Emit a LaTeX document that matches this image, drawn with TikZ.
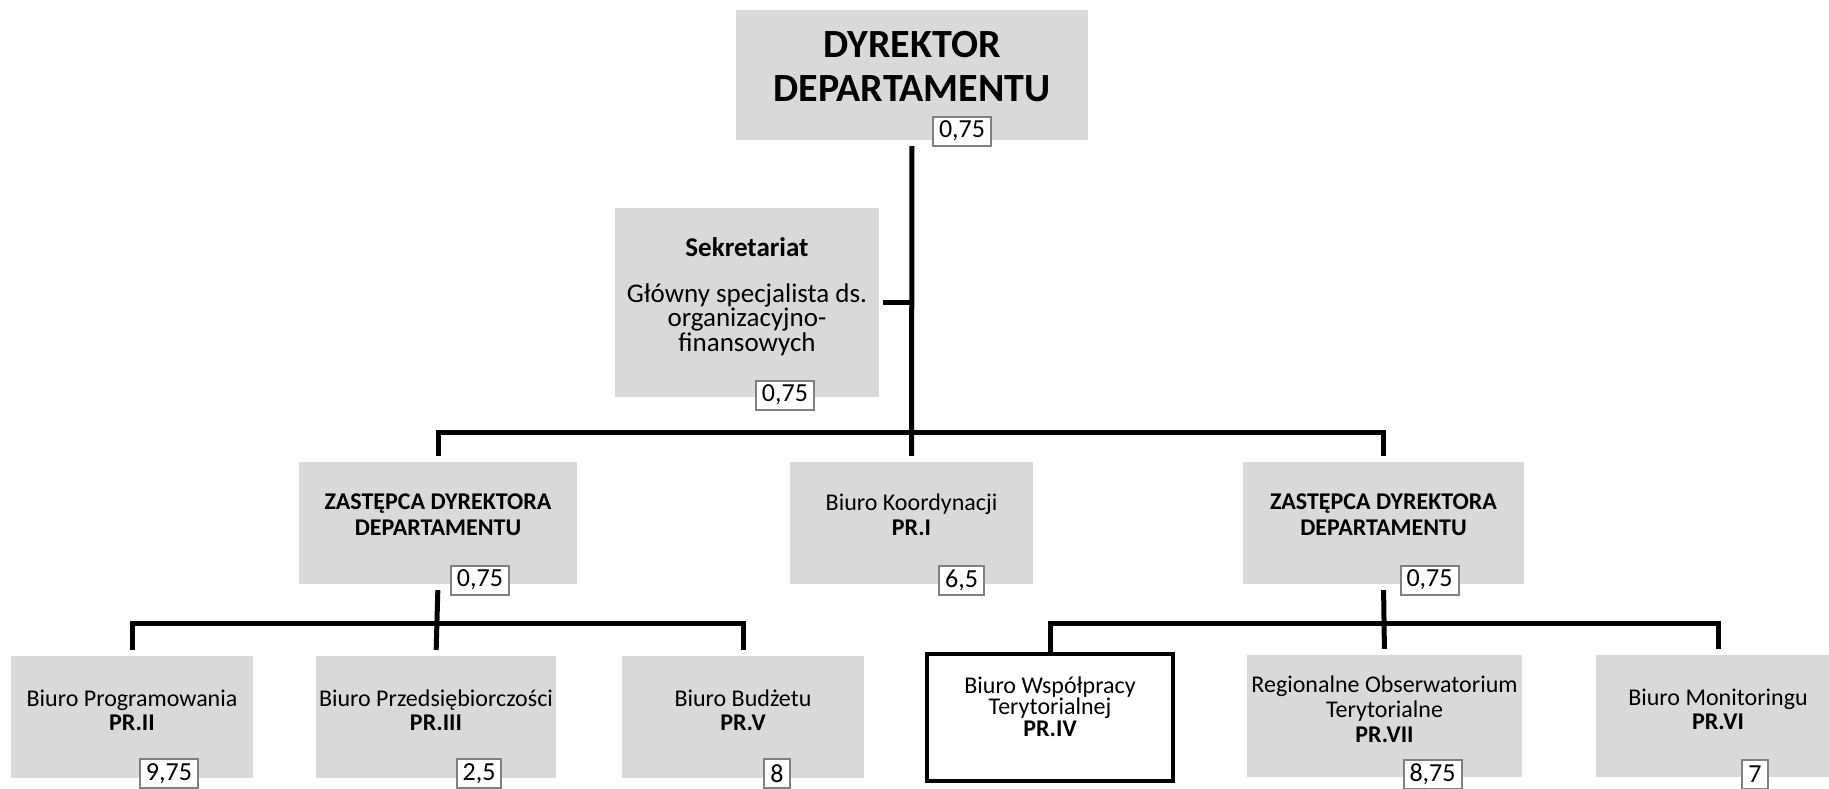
\documentclass[tikz,border=0pt]{standalone}
\usepackage{fontspec}
\setmainfont{Carlito}
\usetikzlibrary{positioning,calc}
\definecolor{boxgray}{HTML}{D9D9D9}
\definecolor{valgray}{HTML}{808080}
\newcommand{\lift}[1]{\rule[-#1]{0pt}{0pt}}

\begin{document}
\begin{tikzpicture}[x=1pt, y=-1pt,
    box/.style={fill=boxgray, align=center, inner xsep=2pt, inner ysep=0pt,
        minimum height=122pt, font=\fontsize{24}{24}\selectfont},
    valbox/.style={draw=valgray, line width=2pt, fill=white, inner xsep=6pt,
        inner ysep=0pt, minimum height=29pt, font=\fontsize{26}{28}\selectfont},
    conn/.style={line width=5pt},
    gap/.style={shorten <=6pt, shorten >=6pt}]
    \useasboundingbox (0,0) rectangle (1829,789);

    % top
    \node[box, minimum width=352pt, minimum height=130pt, font=\fontsize{40}{44}\bfseries] (dyr) at (912,75) {DYREKTOR\\DEPARTAMENTU\lift{17pt}};
    \node[box, minimum width=264pt, minimum height=189pt, font=\fontsize{27}{24.5}\selectfont] (sek) at (747,302.5)
        {\textbf{Sekretariat}\\[21pt]Główny specjalista ds.\\organizacyjno-\\finansowych\lift{16pt}};

    % middle row
    \node[box, minimum width=278pt, font=\fontsize{24}{26}\bfseries] (zdl) at (438,523) {ZASTĘPCA DYREKTORA\\DEPARTAMENTU\lift{16pt}};
    \node[box, minimum width=243pt, font=\fontsize{24}{25}\selectfont] (bk) at (911.5,523) {Biuro Koordynacji\\\textbf{PR.I}\lift{16pt}};
    \node[box, minimum width=281pt, font=\fontsize{24}{26}\bfseries] (zdr) at (1383.5,523) {ZASTĘPCA DYREKTORA\\DEPARTAMENTU\lift{16pt}};

    % bottom row
    \node[box, minimum width=242pt] (prog) at (132,717) {Biuro Programowania\\\textbf{PR.II}\lift{14pt}};
    \node[box, minimum width=240pt] (prz) at (436,717) {Biuro Przedsiębiorczości\\\textbf{PR.III}\lift{14pt}};
    \node[box, minimum width=242pt] (bud) at (743,717) {Biuro Budżetu\\\textbf{PR.V}\lift{14pt}};
    \node[box, fill=white, draw=black, line width=4pt, minimum width=246pt, minimum height=127pt,
        font=\fontsize{24}{21.5}\selectfont] (wsp) at (1050,717.5) {Biuro Współpracy\\Terytorialnej\\\textbf{PR.IV}\lift{22pt}};
    \node[box, minimum width=275pt, font=\fontsize{24}{25}\selectfont] (reg) at (1384.5,716) {Regionalne Obserwatorium\\Terytorialne\\\textbf{PR.VII}\lift{14pt}};
    \node[box, minimum width=244pt] (mon) at (1718,716) {Biuro Monitoringu\\\textbf{PR.VI}\lift{14pt}};

    \coordinate (barT) at (911,432);
    \coordinate (barL) at (437,623);
    \coordinate (barR) at (1384,623);

    % connectors
    \draw[conn, gap] (dyr.south) -- (bk.north);
    \draw[conn, shorten <=4pt] (sek.east) -- (sek.east -| dyr.south);
    \draw[conn, gap] (zdl.north) -- (zdl.north |- barT) -- (zdr.north |- barT) -- (zdr.north);
    \draw[conn, gap] (zdl.south) -- (prz.north);
    \draw[conn, gap] (prog.north) -- (prog.north |- barL) -- (bud.north |- barL) -- (bud.north);
    \draw[conn, gap] (zdr.south) -- (reg.north);
    \draw[conn, shorten >=6pt] (wsp.north) -- (wsp.north |- barR) -- (mon.north |- barR) -- (mon.north);

    % etaty
    \node[valbox] (dyr-v) at ([xshift=50pt, yshift=9pt]dyr.south) {0,75};
    \node[valbox] (sek-v) at ([xshift=38pt, yshift=2pt]sek.south) {0,75};
    \node[valbox] (zdl-v) at ([xshift=42pt, yshift=4pt]zdl.south) {0,75};
    \node[valbox] (bk-v) at ([xshift=50pt, yshift=4pt]bk.south) {6,5};
    \node[valbox] (zdr-v) at ([xshift=46pt, yshift=4pt]zdr.south) {0,75};
    \node[valbox] (prog-v) at ([xshift=37pt, yshift=4.5pt]prog.south) {9,75};
    \node[valbox] (prz-v) at ([xshift=43pt, yshift=4.5pt]prz.south) {2,5};
    \node[valbox] (bud-v) at ([xshift=34pt, yshift=4.5pt]bud.south) {8};
    \node[valbox] (reg-v) at ([xshift=48pt, yshift=3pt]reg.south) {8,75};
    \node[valbox] (mon-v) at ([xshift=37pt, yshift=3pt]mon.south) {7};
\end{tikzpicture}
\end{document}
